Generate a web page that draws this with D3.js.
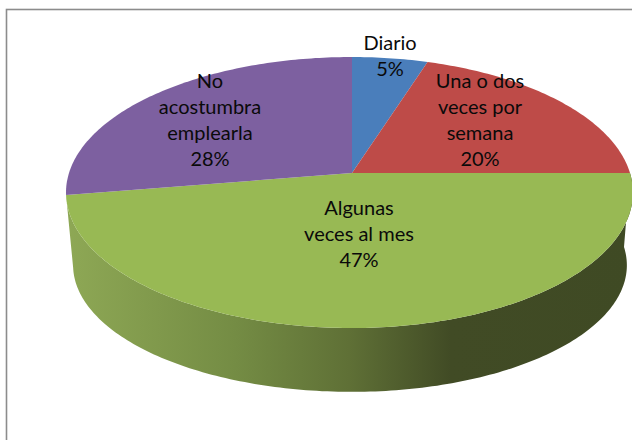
<!DOCTYPE html>
<html lang="es">
<head>
<meta charset="utf-8">
<title>Frecuencia de uso</title>
<script src="https://cdn.jsdelivr.net/npm/d3@7"></script>
<style>
    html, body { margin: 0; padding: 0; background: #fff; overflow: hidden; }
    svg { display: block; }
    .label { font-family: Lato, sans-serif; font-size: 20px; fill: #0a0a0a; text-anchor: middle; }
</style>
</head>
<body>
<div id="chart"></div>
<script>
// values, labels show them rounded
const categories = ["Diario", "Una o dos veces por semana", "Algunas veces al mes", "No acostumbra emplearla"];
const percents = [5, 20, 47.4, 27.6];
const colours = ["#4a7ebb", "#be4b48", "#98b954", "#7d60a0"];
const labelLines = [["Diario"], ["Una o dos", "veces por", "semana"], ["Algunas", "veces al mes"], ["No", "acostumbra", "emplearla"]];
// centre of each label block on the page
const labelCentres = [[390, 56], [480, 120], [359, 234], [210, 120]];

const WIDTH = 632, HEIGHT = 440;
const LINE_HEIGHT = 26.2;

// tilted disc: k is the perspective, rx differs left and right of the centre line
const topDisc = {cx: 352, cy: 173, rxL: 283, rxR: 278, ry: 132.7, k: 0.144};
const baseDisc = {cx: 352, cy: 247, rxL: 276, rxR: 272, ry: 124, k: 0.144};

function project(disc, angle) {
    let u = Math.sin(angle), v = -Math.cos(angle);
    let s = 1 / (1 - disc.k * v);
    return [disc.cx + (u < 0 ? disc.rxL : disc.rxR) * u * s, disc.cy + disc.ry * v * s];
}

function arcPoints(disc, a0, a1) {
    let n = Math.max(2, Math.ceil(Math.abs(a1 - a0) * 60));
    return d3.range(n + 1).map(i => project(disc, a0 + (a1 - a0) * i / n));
}

let svg = d3.select("#chart").append("svg")
    .attr("width", WIDTH)
    .attr("height", HEIGHT);

svg.append("rect").attr("width", WIDTH).attr("height", HEIGHT).attr("fill", "#fff");

// chart frame, cut off by the right and bottom of the picture
svg.append("rect")
    .attr("x", 6.5).attr("y", 9.5)
    .attr("width", WIDTH + 20).attr("height", HEIGHT + 20)
    .attr("fill", "none")
    .attr("stroke", "#8c8c8c")
    .attr("stroke-width", 1.6);

let grad = svg.append("defs").append("linearGradient")
    .attr("id", "wall")
    .attr("gradientUnits", "userSpaceOnUse")
    .attr("x1", 66).attr("x2", 632).attr("y1", 0).attr("y2", 0);
[[0, "#8ea855"], [0.3, "#748c44"], [0.5, "#5f7036"], [0.68, "#414b25"], [1, "#3f4a24"]].forEach(s => {
    grad.append("stop").attr("offset", s[0]).attr("stop-color", s[1]);
});

let slices = d3.pie().sort(null)(percents);
let line = d3.line();

// only the front slice shows a wall
let front = slices[2];
svg.append("path")
    .attr("d", line(arcPoints(topDisc, front.startAngle, front.endAngle)
        .concat(arcPoints(baseDisc, front.endAngle, front.startAngle))) + "Z")
    .attr("fill", "url(#wall)");

svg.selectAll(".slice")
    .data(slices)
    .enter()
    .append("path")
    .attr("class", "slice")
    .attr("d", d => line([[topDisc.cx, topDisc.cy]].concat(arcPoints(topDisc, d.startAngle, d.endAngle))) + "Z")
    .attr("fill", (d, i) => colours[i]);

let labels = svg.selectAll(".label")
    .data(categories)
    .enter()
    .append("text")
    .attr("class", "label");

labels.each(function(d, i) {
    let lines = labelLines[i].concat([Math.round(percents[i]) + "%"]);
    let top = labelCentres[i][1] - (lines.length - 1) * LINE_HEIGHT / 2;
    d3.select(this).selectAll("tspan")
        .data(lines)
        .enter()
        .append("tspan")
        .attr("x", labelCentres[i][0])
        .attr("y", (t, j) => top + j * LINE_HEIGHT + 7)
        .text(t => t);
});
</script>
</body>
</html>
